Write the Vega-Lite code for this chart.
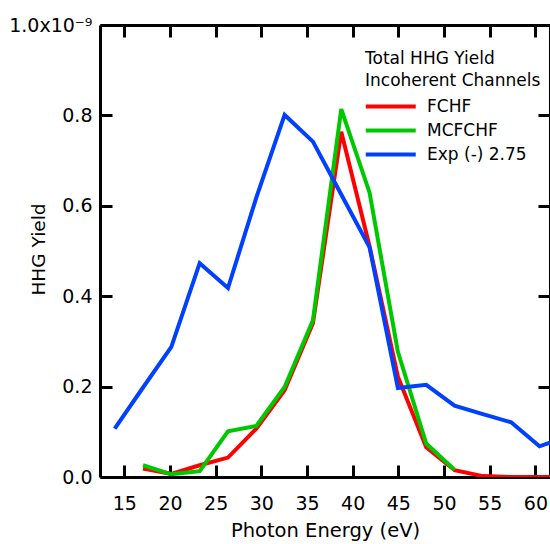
{
  "$schema": "https://vega.github.io/schema/vega-lite/v6.json",
  "width": 450,
  "height": 452,
  "autosize": "none",
  "padding": {"left": 100, "top": 25, "right": 0, "bottom": 67},
  "background": "white",
  "config": {
    "view": {"stroke": null},
    "font": "DejaVu Sans",
    "axis": {
      "grid": false,
      "domainColor": "black",
      "domainWidth": 3,
      "tickColor": "black",
      "tickWidth": 3,
      "tickSize": -12,
      "labelColor": "black",
      "labelFont": "DejaVu Sans",
      "labelFontSize": 19,
      "titleFont": "DejaVu Sans",
      "titleFontSize": 18.5,
      "titleFontWeight": "normal",
      "titleColor": "black"
    }
  },
  "data": {
    "values": [
      {"series": "FCHF", "energy": 17.05, "yield": 0.019},
      {"series": "FCHF", "energy": 20.15, "yield": 0.007},
      {"series": "FCHF", "energy": 23.25, "yield": 0.026},
      {"series": "FCHF", "energy": 26.35, "yield": 0.043},
      {"series": "FCHF", "energy": 29.45, "yield": 0.107},
      {"series": "FCHF", "energy": 32.55, "yield": 0.192},
      {"series": "FCHF", "energy": 35.65, "yield": 0.34},
      {"series": "FCHF", "energy": 38.75, "yield": 0.764},
      {"series": "FCHF", "energy": 41.85, "yield": 0.51},
      {"series": "FCHF", "energy": 44.95, "yield": 0.222},
      {"series": "FCHF", "energy": 48.05, "yield": 0.066},
      {"series": "FCHF", "energy": 51.15, "yield": 0.015},
      {"series": "FCHF", "energy": 54.25, "yield": 0.002},
      {"series": "FCHF", "energy": 57.35, "yield": 0.0},
      {"series": "FCHF", "energy": 60.45, "yield": 0.0},
      {"series": "FCHF", "energy": 63.55, "yield": 0.0},
      {"series": "MCFCHF", "energy": 17.05, "yield": 0.026},
      {"series": "MCFCHF", "energy": 20.15, "yield": 0.006},
      {"series": "MCFCHF", "energy": 23.25, "yield": 0.013},
      {"series": "MCFCHF", "energy": 26.35, "yield": 0.101},
      {"series": "MCFCHF", "energy": 29.45, "yield": 0.113},
      {"series": "MCFCHF", "energy": 32.55, "yield": 0.199},
      {"series": "MCFCHF", "energy": 35.65, "yield": 0.347},
      {"series": "MCFCHF", "energy": 38.75, "yield": 0.814},
      {"series": "MCFCHF", "energy": 41.85, "yield": 0.629},
      {"series": "MCFCHF", "energy": 44.95, "yield": 0.277},
      {"series": "MCFCHF", "energy": 48.05, "yield": 0.074},
      {"series": "MCFCHF", "energy": 51.15, "yield": 0.016},
      {"series": "Exp (-) 2.75", "energy": 13.95, "yield": 0.107},
      {"series": "Exp (-) 2.75", "energy": 17.05, "yield": 0.198},
      {"series": "Exp (-) 2.75", "energy": 20.15, "yield": 0.288},
      {"series": "Exp (-) 2.75", "energy": 23.25, "yield": 0.473},
      {"series": "Exp (-) 2.75", "energy": 26.35, "yield": 0.418},
      {"series": "Exp (-) 2.75", "energy": 29.45, "yield": 0.618},
      {"series": "Exp (-) 2.75", "energy": 32.55, "yield": 0.801},
      {"series": "Exp (-) 2.75", "energy": 35.65, "yield": 0.742},
      {"series": "Exp (-) 2.75", "energy": 38.75, "yield": 0.625},
      {"series": "Exp (-) 2.75", "energy": 41.85, "yield": 0.508},
      {"series": "Exp (-) 2.75", "energy": 44.95, "yield": 0.197},
      {"series": "Exp (-) 2.75", "energy": 48.05, "yield": 0.204},
      {"series": "Exp (-) 2.75", "energy": 51.15, "yield": 0.158},
      {"series": "Exp (-) 2.75", "energy": 54.25, "yield": 0.139},
      {"series": "Exp (-) 2.75", "energy": 57.35, "yield": 0.121},
      {"series": "Exp (-) 2.75", "energy": 60.45, "yield": 0.068},
      {"series": "Exp (-) 2.75", "energy": 63.55, "yield": 0.09}
    ]
  },
  "layer": [
    {
      "mark": {"type": "line", "strokeWidth": 4, "clip": true},
      "encoding": {
        "x": {
          "field": "energy", "type": "quantitative",
          "scale": {"domain": [12.34, 61.6], "nice": false, "zero": false},
          "axis": {
            "orient": "bottom",
            "title": "Photon Energy (eV)",
            "titleFontSize": 19.5,
            "values": [15, 20, 25, 30, 35, 40, 45, 50, 55, 60],
            "ticks": false,
            "labelPadding": 17,
            "titlePadding": 8
          }
        },
        "y": {
          "field": "yield", "type": "quantitative",
          "scale": {"domain": [0, 1], "nice": false},
          "axis": {
            "orient": "left",
            "title": "HHG Yield",
            "values": [0, 0.2, 0.4, 0.6, 0.8, 1.0],
            "ticks": false,
            "labelExpr": "datum.value > 0.99 ? '1.0x10⁻⁹' : format(datum.value, '.1f')",
            "labelPadding": 8,
            "titleAngle": 270,
            "titleX": -56,
            "titleY": 224,
            "titleAlign": "center",
            "titleBaseline": "alphabetic"
          }
        },
        "color": {
          "field": "series", "type": "nominal",
          "scale": {
            "domain": ["FCHF", "MCFCHF", "Exp (-) 2.75"],
            "range": ["#ff0000", "#00c800", "#0040ff"]
          },
          "legend": {
            "orient": "none",
            "legendX": 265,
            "legendY": 26,
            "padding": 0,
            "title": ["Total HHG Yield", "Incoherent Channels"],
            "titleFont": "DejaVu Sans",
            "titleFontSize": 17,
            "titleFontWeight": "normal",
            "titleColor": "black",
            "titleLineHeight": 22,
            "titlePadding": 2,
            "labelFont": "DejaVu Sans",
            "labelFontSize": 17,
            "labelColor": "black",
            "labelOffset": 33,
            "symbolType": "M-1.1,0H2.9",
            "symbolSize": 625,
            "symbolStrokeWidth": 4,
            "rowPadding": 1
          }
        }
      }
    },
    {
      "mark": {"type": "line", "strokeOpacity": 0, "clip": true},
      "encoding": {
        "x": {
          "field": "energy", "type": "quantitative",
          "axis": {"orient": "top", "title": null, "labels": false, "values": [15, 20, 25, 30, 35, 40, 45, 50, 55, 60]}
        },
        "y": {
          "field": "yield", "type": "quantitative",
          "axis": {"orient": "right", "title": null, "labels": false, "values": [0, 0.2, 0.4, 0.6, 0.8, 1.0]}
        },
        "detail": {"field": "series"}
      }
    },
    {
      "mark": {"type": "line", "strokeOpacity": 0, "clip": true},
      "encoding": {
        "x": {
          "field": "energy", "type": "quantitative",
          "axis": {"orient": "bottom", "title": null, "labels": false, "domain": false, "offset": -12, "tickColor": "black", "tickWidth": 3, "tickSize": 12, "values": [15, 20, 25, 30, 35, 40, 45, 50, 55, 60]}
        },
        "y": {
          "field": "yield", "type": "quantitative",
          "axis": {"orient": "left", "title": null, "labels": false, "domain": false, "offset": -12, "tickColor": "black", "tickWidth": 3, "tickSize": 12, "values": [0, 0.2, 0.4, 0.6, 0.8, 1.0]}
        },
        "detail": {"field": "series"}
      }
    }
  ],
  "resolve": {"axis": {"x": "independent", "y": "independent"}}
}
